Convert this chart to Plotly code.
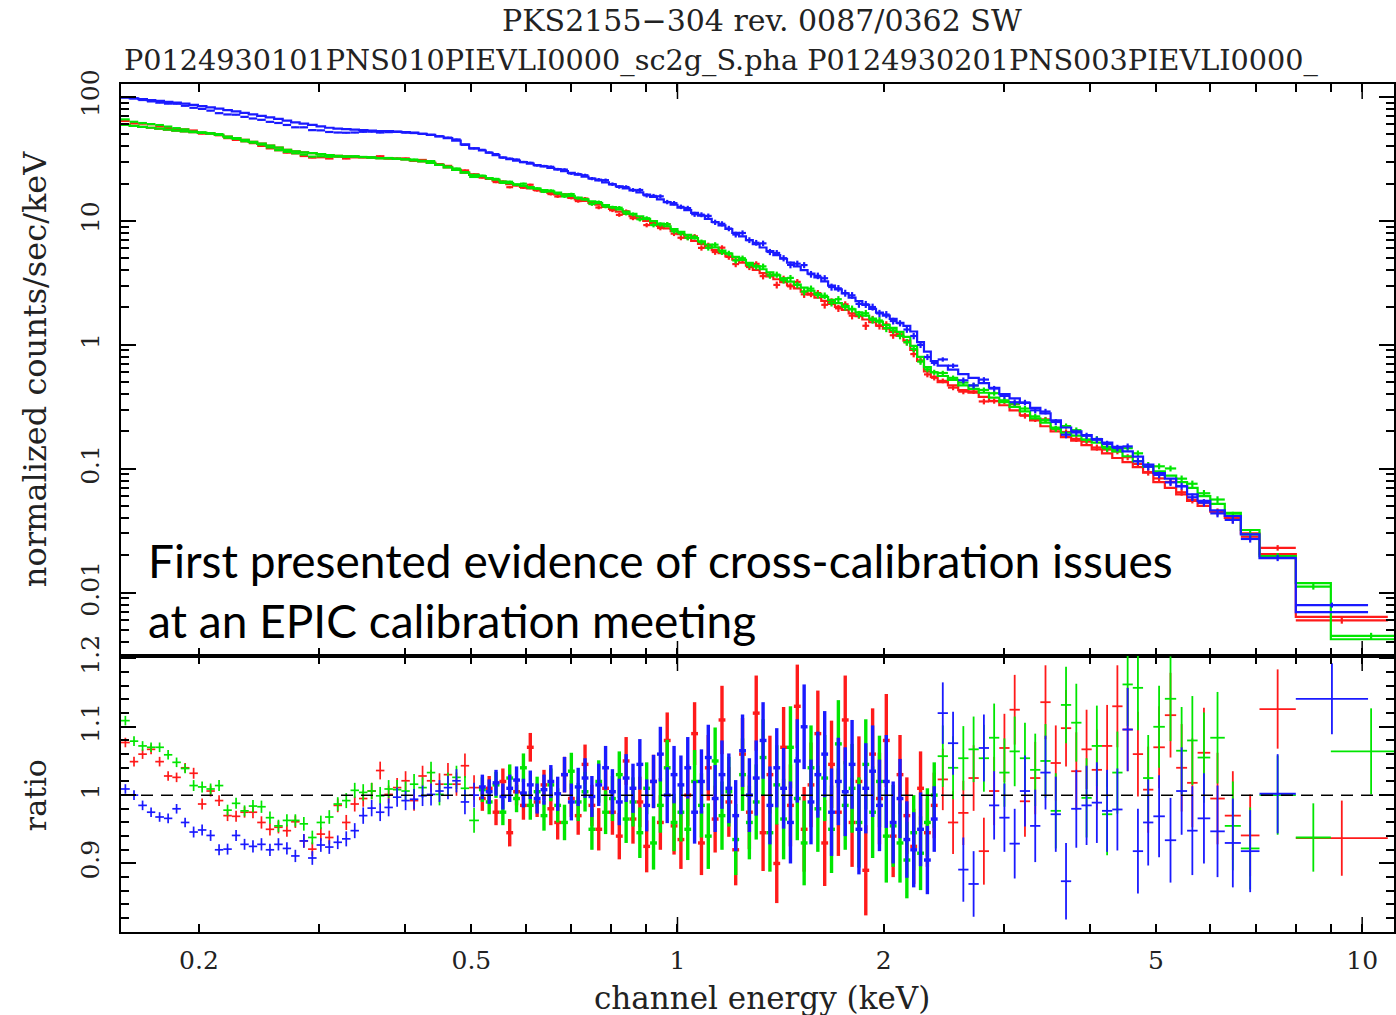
import math
import plotly.graph_objects as go

# ---------------- data ----------------
# common energy bin edges (keV)
edges_low = [0.1539, 0.1585, 0.1631, 0.1679, 0.1727, 0.1778, 0.1829, 0.1882, 0.1937, 0.1993,
             0.2051, 0.2110, 0.2171, 0.2234, 0.2299, 0.2365, 0.2433, 0.2504, 0.2576, 0.2651,
             0.2727, 0.2806, 0.2887, 0.2971, 0.3057, 0.3145, 0.3236, 0.3330, 0.3426, 0.3525,
             0.3627, 0.3732, 0.3840, 0.3951, 0.4065, 0.4183, 0.4304, 0.4428, 0.4556, 0.4688,
             0.4824, 0.4963]
edges_dense = [0.5129, 0.5248, 0.5370, 0.5495, 0.5623, 0.5754, 0.5888, 0.6026, 0.6166, 0.6310,
               0.6457, 0.6607, 0.6761, 0.6918, 0.7079, 0.7244, 0.7413, 0.7586, 0.7762, 0.7943,
               0.8128, 0.8318, 0.8511, 0.8710, 0.8913, 0.9120, 0.9333, 0.9550, 0.9772, 1.0000,
               1.0233, 1.0471, 1.0715, 1.0965, 1.1220, 1.1482, 1.1749, 1.2023, 1.2303, 1.2589,
               1.2882, 1.3183, 1.3490, 1.3804, 1.4125, 1.4454, 1.4791, 1.5136, 1.5488, 1.5849,
               1.6218, 1.6596, 1.6982, 1.7378, 1.7783, 1.8197, 1.8621, 1.9055, 1.9498, 1.9953,
               2.0417, 2.0893, 2.1380, 2.1878, 2.2387, 2.2909, 2.3442]
edges_mid = [2.3988, 2.4831, 2.5704, 2.6607, 2.7542, 2.8510, 2.9512, 3.0549, 3.1623, 3.2734,
             3.3884, 3.5075, 3.6308, 3.7584, 3.8905, 4.0272, 4.1687, 4.3152, 4.4668, 4.6238,
             4.7863]
edges_high = [4.9545, 5.15, 5.35, 5.55, 5.75, 6.0, 6.3, 6.65, 7.08, 8.0]

# last (wide) bins differ between the three data sets
tail_edges_red = [10.9]
tail_edges_green = [9.0, 11.8]
tail_edges_blue = [10.2]

# folded model, normalized counts/sec/keV
model_red = [59.5, 58.5, 57.5, 56.5, 55.5, 54.5, 53.5, 52.7, 52, 51.3,
             50.6, 49.5, 48, 46.5, 45, 43.5, 42, 40.5, 39, 37.5,
             36.5, 35.8, 35.2, 34.6, 34, 33.5, 33.2, 33, 32.7, 32.4,
             32.1, 31.9, 31.6, 31.3, 30.8, 30.2, 29.4, 28.3, 27, 25.8, 24.5, 23.5,
             22.5, 21.8, 21.1, 20.4, 19.8, 19.3, 18.8, 18.3, 17.8, 17.3,
             16.8, 16.4, 15.9, 15.4, 14.9, 14.5, 14.0, 13.5, 13.0, 12.5,
             11.9, 11.4, 10.9, 10.5, 10.0, 9.55, 9.12, 8.69, 8.26, 7.82,
             7.32, 6.89, 6.51, 6.13, 5.81, 5.48, 5.17, 4.87, 4.61, 4.35,
             4.02, 3.79, 3.57, 3.38, 3.20, 3.01, 2.85, 2.69, 2.54, 2.40,
             2.26, 2.14, 2.02, 1.91, 1.79, 1.70, 1.60, 1.52, 1.43, 1.35,
             1.27, 1.18, 1.08, 0.91, 0.74, 0.61, 0.55,
             0.50, 0.47, 0.43, 0.41, 0.38, 0.35, 0.325, 0.295, 0.27, 0.245,
             0.22, 0.20, 0.18, 0.168, 0.155, 0.143, 0.133, 0.122, 0.113, 0.103, 0.093,
             0.078, 0.070, 0.062, 0.055, 0.050, 0.045, 0.040, 0.030, 0.0204,
             0.00636]
model_green = [59.5, 58.5, 57.5, 56.5, 55.5, 54.5, 53.5, 52.7, 52, 51.3,
               50.6, 49.5, 48, 46.5, 45, 43.5, 42, 40.5, 39, 37.5,
               36.5, 35.8, 35.2, 34.6, 34, 33.5, 33.2, 33, 32.7, 32.4,
               32.1, 31.9, 31.6, 31.3, 30.8, 30.2, 29.4, 28.3, 27, 25.8, 24.5, 23.5,
               23.0, 22.2, 21.5, 20.8, 20.2, 19.7, 19.2, 18.7, 18.2, 17.7,
               17.3, 16.9, 16.4, 15.9, 15.4, 14.9, 14.4, 13.9, 13.4, 12.9,
               12.4, 11.9, 11.4, 10.9, 10.4, 9.95, 9.5, 9.05, 8.6, 8.15,
               7.70, 7.25, 6.85, 6.45, 6.12, 5.77, 5.44, 5.13, 4.85, 4.58,
               4.32, 4.07, 3.84, 3.63, 3.44, 3.24, 3.06, 2.89, 2.73, 2.58,
               2.43, 2.30, 2.17, 2.05, 1.93, 1.83, 1.72, 1.63, 1.54, 1.45,
               1.37, 1.27, 1.16, 0.98, 0.80, 0.66, 0.60,
               0.56, 0.52, 0.47, 0.44, 0.41, 0.375, 0.345, 0.315, 0.29, 0.255,
               0.235, 0.215, 0.195, 0.185, 0.172, 0.162, 0.150, 0.138, 0.126, 0.115, 0.104,
               0.095, 0.088, 0.078, 0.070, 0.060, 0.052, 0.044, 0.032, 0.0197,
               0.0119, 0.0042]
model_blue = [99, 97.5, 96, 94.5, 93, 91.5, 90, 88.5, 86.5, 84.5,
              82.5, 80.5, 78.5, 76.5, 74.5, 72.5, 70.5, 68.5, 66.5, 64.5,
              62.5, 61, 59.5, 58, 56.5, 55.5, 55, 54.5, 54, 53.5,
              53, 53, 52.5, 52, 51.5, 50.5, 49.5, 48, 46.5, 44.5, 41.5, 38.5,
              37, 35.5, 34, 32.5, 31.5, 30.6, 29.8, 29.0, 28.2, 27.5,
              26.8, 26.1, 25.2, 24.4, 23.6, 22.8, 22.0, 21.2, 20.5, 19.7,
              19.0, 18.3, 17.6, 17.0, 16.3, 15.6, 14.9, 14.2, 13.5, 12.8,
              12.2, 11.6, 11.0, 10.4, 9.8, 9.2, 8.6, 8.0, 7.5, 7.0,
              6.5, 6.1, 5.7, 5.3, 4.95, 4.6, 4.3, 4.0, 3.75, 3.5,
              3.25, 3.0, 2.8, 2.6, 2.4, 2.25, 2.1, 1.95, 1.82, 1.72,
              1.62, 1.5, 1.42, 1.28, 1.05, 0.88, 0.74,
              0.68, 0.63, 0.58, 0.54, 0.49, 0.45, 0.40, 0.37, 0.34, 0.31,
              0.28, 0.245, 0.215, 0.20, 0.187, 0.173, 0.162, 0.150, 0.138, 0.125, 0.108,
              0.092, 0.083, 0.072, 0.062, 0.055, 0.046, 0.0415, 0.0295, 0.019,
              0.00695]

# data / model ratio
ratio_red = [1.077, 1.049, 1.060, 1.067, 1.049, 1.028, 1.026, 1.040, 1.032, 0.987,
             1.006, 0.992, 0.970, 0.969, 0.975, 0.975, 0.960, 0.950, 0.953, 0.948,
             0.961, 0.933, 0.921, 0.943, 0.938, 0.985, 0.960, 0.987, 0.995, 1.006,
             1.036, 1.001, 1.011, 1.021, 0.992, 1.028, 1.021, 1.016, 1.030, 1.016, 1.043, 1.011,
             0.995, 1.010, 0.975, 1.020, 0.945, 1.005, 0.985, 1.070, 0.990, 1.015,
             0.980, 0.960, 1.030, 0.995, 0.970, 1.045, 0.985, 0.950, 1.010, 0.975,
             0.940, 1.050, 0.965, 0.990, 0.925, 1.020, 0.960, 1.080, 0.955, 0.935,
             1.000, 1.090, 0.930, 1.040, 0.965, 1.110, 0.990, 0.920, 1.060, 0.975,
             1.120, 0.945, 1.030, 0.900, 1.070, 0.985, 1.130, 0.950, 1.015, 1.090,
             0.930, 1.045, 0.975, 1.110, 0.960, 1.020, 0.890, 1.060, 0.995, 1.080,
             0.940, 1.030, 0.970, 0.925, 1.010, 0.945, 0.985,
             1.023, 0.960, 0.974, 1.025, 0.918, 1.006, 1.069, 1.125, 0.991, 1.025,
             1.136, 1.047, 1.098, 1.035, 1.067, 1.037, 1.072, 1.130, 1.096, 1.060, 1.008,
             1.070, 1.117, 1.040, 1.018, 1.062, 0.995, 0.970, 0.941, 1.126,
             0.937]
ratio_green = [1.109, 1.079, 1.072, 1.070, 1.070, 1.059, 1.048, 1.039, 1.014, 1.012,
               1.009, 1.014, 0.978, 0.988, 0.977, 0.984, 0.983, 0.967, 0.955, 0.963,
               0.963, 0.958, 0.938, 0.960, 0.968, 0.987, 0.992, 1.007, 1.004, 1.006,
               0.999, 1.009, 1.008, 1.006, 1.016, 1.011, 1.033, 1.001, 1.016, 1.026, 1.010, 0.963,
               1.008, 0.990, 1.015, 0.975, 1.025, 0.995, 1.040, 0.985, 1.005, 0.970,
               1.015, 0.985, 0.960, 1.035, 0.990, 1.005, 0.950, 1.020, 0.975, 0.995,
               1.030, 0.965, 0.990, 0.945, 1.010, 0.930, 0.985, 1.040, 0.960, 0.975,
               0.950, 1.020, 0.985, 0.940, 1.050, 0.970, 1.005, 0.935, 1.030, 0.960,
               0.990, 1.055, 0.945, 1.015, 0.965, 1.070, 0.995, 0.930, 1.040, 0.980,
               1.025, 0.950, 1.075, 0.985, 1.010, 0.960, 1.045, 0.975, 1.020, 0.940,
               0.955, 0.930, 0.905, 0.945, 0.915, 0.960, 1.000,
               1.057, 1.040, 1.054, 1.067, 1.054, 1.084, 1.033, 1.064, 1.054, 1.037,
               1.050, 0.977, 1.132, 1.106, 0.996, 1.072, 0.972, 1.033, 1.162, 1.157, 1.025,
               1.100, 1.141, 1.065, 1.080, 1.055, 1.084, 0.955, 0.922, 1.000,
               0.938, 1.064]
ratio_blue = [1.009, 1.000, 0.985, 0.975, 0.968, 0.966, 0.980, 0.960, 0.946, 0.949,
              0.941, 0.920, 0.921, 0.941, 0.928, 0.925, 0.928, 0.920, 0.928, 0.922,
              0.911, 0.933, 0.908, 0.927, 0.924, 0.931, 0.936, 0.948, 0.970, 0.981,
              0.975, 0.982, 0.997, 0.992, 0.994, 0.999, 1.001, 1.006, 1.011, 1.021, 0.990, 1.000,
              1.012, 1.005, 1.018, 0.998, 1.010, 1.022, 1.003, 1.015, 0.995, 1.008,
              1.020, 1.002, 1.030, 0.990, 1.012, 1.025, 0.998, 1.015, 1.040, 1.005,
              0.990, 1.025, 1.010, 1.045, 0.985, 1.020, 1.060, 1.000, 1.030, 1.015,
              1.040, 0.975, 1.020, 1.055, 0.995, 1.030, 1.010, 0.970, 1.065, 1.000,
              1.025, 1.080, 0.985, 1.040, 1.010, 0.960, 1.050, 1.100, 0.990, 1.030,
              1.060, 0.975, 1.020, 1.005, 1.045, 0.950, 1.010, 1.035, 0.985, 1.020,
              0.960, 0.995, 0.935, 0.920, 0.950, 0.905, 0.965,
              1.120, 1.076, 0.891, 0.870, 1.069, 0.985, 0.967, 0.929, 1.006, 0.955,
              1.033, 0.972, 0.874, 0.980, 0.985, 0.989, 0.977, 0.979, 1.096, 0.918, 0.960,
              0.969, 0.934, 1.006, 0.948, 0.966, 0.947, 0.930, 0.918, 1.002,
              1.141]

# 1-sigma ratio errors on the common bins, plus the tail bins per data set
ratio_err = [0.007, 0.007, 0.007, 0.007, 0.007, 0.007, 0.007, 0.007, 0.008, 0.008,
             0.008, 0.008, 0.008, 0.008, 0.008, 0.009, 0.009, 0.009, 0.009, 0.009,
             0.009, 0.010, 0.010, 0.010, 0.010, 0.010, 0.011, 0.011, 0.012, 0.012,
             0.013, 0.013, 0.014, 0.014, 0.015, 0.015, 0.016, 0.016, 0.017, 0.017, 0.018, 0.018,
             0.018, 0.018, 0.019, 0.019, 0.020, 0.020, 0.021, 0.021, 0.022, 0.022,
             0.024, 0.025, 0.026, 0.027, 0.028, 0.029, 0.030, 0.031, 0.032, 0.033,
             0.034, 0.035, 0.036, 0.037, 0.038, 0.039, 0.040, 0.041, 0.042, 0.043,
             0.045, 0.046, 0.047, 0.048, 0.049, 0.050, 0.051, 0.052, 0.053, 0.054,
             0.055, 0.056, 0.057, 0.058, 0.059, 0.060, 0.061, 0.062, 0.062, 0.063,
             0.063, 0.064, 0.064, 0.065, 0.065, 0.066, 0.066, 0.067, 0.067, 0.068,
             0.060, 0.058, 0.056, 0.055, 0.054, 0.050, 0.048,
             0.045, 0.046, 0.047, 0.048, 0.049, 0.050, 0.050, 0.051, 0.052, 0.053,
             0.054, 0.055, 0.056, 0.057, 0.058, 0.059, 0.060, 0.060, 0.061, 0.062, 0.063,
             0.060, 0.062, 0.064, 0.065, 0.066, 0.067, 0.065, 0.060, 0.058]
tail_err_red = [0.055]
tail_err_green = [0.050, 0.063]
tail_err_blue = [0.052]

x_tick_vals = [0.2, 0.5, 1, 2, 5, 10]
x_tick_text = ["0.2", "0.5", "1", "2", "5", "10"]
y_tick_vals = [0.01, 0.1, 1, 10, 100]
y_tick_text = ["0.01", "0.1", "1", "10", "100"]
r_tick_vals = [0.9, 1.0, 1.1, 1.2]
r_tick_text = ["0.9", "1", "1.1", "1.2"]

# ---------------- figure ----------------
W, H = 1396, 1015
L, R, T, B = 121, 1396, 84, 932
SPLIT = 656  # pixel row between the two panels


def px(xp):
    return (xp - L) / (R - L)


def py(yp):
    return (B - yp) / (B - T)


XR = [math.log10(0.1539), math.log10(11.13)]

edges_common = edges_low + edges_dense + edges_mid + edges_high
n_low = len(edges_low)
n_dense = len(edges_dense)
series = [
    ("#ff1a1a", edges_common + tail_edges_red, model_red, ratio_red, ratio_err + tail_err_red),
    ("#00e600", edges_common + tail_edges_green, model_green, ratio_green, ratio_err + tail_err_green),
    ("#1a1aff", edges_common + tail_edges_blue, model_blue, ratio_blue, ratio_err + tail_err_blue),
]


def crosses(xs, ys, xp, xm, ye, col, thick, xa, ya):
    return go.Scatter(x=xs, y=ys, mode="markers", marker=dict(size=1, color=col),
                      error_x=dict(type="data", symmetric=False, array=xp, arrayminus=xm,
                                   color=col, thickness=thick, width=0),
                      error_y=dict(type="data", array=ye, color=col, thickness=thick, width=0),
                      xaxis=xa, yaxis=ya, showlegend=False)


fig = go.Figure()
for col, edges, model, ratio, err in series:
    lo = edges[:-1]
    hi = edges[1:]
    assert len(lo) == len(model) == len(ratio) == len(err), (len(lo), len(model), len(ratio), len(err))
    ctr = [math.sqrt(a * b) for a, b in zip(lo, hi)]
    ex_p = [h - c for h, c in zip(hi, ctr)]
    ex_m = [c - l for c, l in zip(ctr, lo)]
    data = [m * r for m, r in zip(model, ratio)]
    data_err = [m * e for m, e in zip(model, err)]
    # model histogram (top)
    fig.add_trace(go.Scatter(x=lo + [hi[-1]], y=model + [model[-1]], mode="lines",
                             line=dict(color=col, width=2.2, shape="hv"),
                             xaxis="x", yaxis="y", showlegend=False, hoverinfo="skip"))
    # data crosses (top)
    fig.add_trace(crosses(ctr, data, ex_p, ex_m, data_err, col, 2.2, "x", "y"))
    # ratio crosses (bottom): the crowded 0.5-2.4 keV part drawn with heavier strokes
    a, b = n_low, n_low + n_dense
    for sl, th in [(slice(0, a), 1.7), (slice(a, b), 3.4), (slice(b, None), 1.8)]:
        fig.add_trace(crosses(ctr[sl], ratio[sl], ex_p[sl], ex_m[sl], err[sl], col, th, "x2", "y2"))

serif = "DejaVu Serif"
tickfont = dict(family=serif, size=25, color="#222")
split_frac = (B - SPLIT) / (B - T)

x_minor = [0.3, 0.4, 0.6, 0.7, 0.8, 0.9, 3, 4, 6, 7, 8, 9]
y_minor = [m * 10 ** p for p in range(-3, 3) for m in range(2, 10)]

common_x = dict(type="log", range=XR, showline=True, linecolor="black", linewidth=2,
                mirror="allticks", ticks="inside", ticklen=8, tickwidth=1.5, tickcolor="black",
                tickmode="array", tickvals=x_tick_vals, ticktext=x_tick_text,
                showgrid=False, zeroline=False,
                minor=dict(ticks="inside", ticklen=8, tickwidth=1.5, tickcolor="black",
                           tickmode="array", tickvals=x_minor, showgrid=False))

fig.update_layout(
    width=W, height=H,
    margin=dict(l=L, r=W - R, t=T, b=H - B),
    paper_bgcolor="white", plot_bgcolor="white",
    xaxis=dict(common_x, domain=[0, 1], anchor="y", showticklabels=False, matches="x2"),
    xaxis2=dict(common_x, domain=[0, 1], anchor="y2", tickfont=tickfont, ticklabelstandoff=5),
    yaxis=dict(type="log", domain=[split_frac, 1], anchor="x",
               range=[-2.512, 2.105], showline=True, linecolor="black", linewidth=2,
               mirror="allticks", ticks="inside", ticklen=15, tickwidth=1.5, tickcolor="black",
               tickmode="array", tickvals=y_tick_vals, ticktext=y_tick_text,
               tickangle=-90, tickfont=tickfont, ticklabelstandoff=10,
               showgrid=False, zeroline=False,
               minor=dict(ticks="inside", ticklen=8, tickwidth=1.5, tickcolor="black",
                          tickmode="array", tickvals=y_minor, showgrid=False)),
    yaxis2=dict(domain=[0, split_frac], anchor="x2", range=[0.7997, 1.2036],
                showline=True, linecolor="black", linewidth=2,
                mirror="allticks", ticks="inside", ticklen=15, tickwidth=1.5, tickcolor="black",
                tickmode="array", tickvals=r_tick_vals, ticktext=r_tick_text,
                tickangle=-90, tickfont=tickfont, ticklabelstandoff=10,
                showgrid=False, zeroline=False,
                minor=dict(ticks="inside", ticklen=8, tickwidth=1.5, tickcolor="black",
                           dtick=0.02, showgrid=False)),
)

# dashed unity line in the ratio panel
fig.add_shape(type="line", xref="x2 domain", yref="y2", x0=0, x1=1, y0=1, y1=1,
              line=dict(color="black", width=1.5, dash="12px,8px"), layer="above")

# longer ticks at the decades on every horizontal frame edge
for xv in [1, 10]:
    xf = (math.log10(xv) - XR[0]) / (XR[1] - XR[0])
    for yref, anchor, sign in [("y domain", 0, 1), ("y domain", 1, -1),
                               ("y2 domain", 0, 1), ("y2 domain", 1, -1)]:
        fig.add_shape(type="line", xref="x domain" if yref == "y domain" else "x2 domain",
                      yref=yref, ysizemode="pixel", yanchor=anchor,
                      x0=xf, x1=xf, y0=0, y1=sign * 15,
                      line=dict(color="black", width=1.5))

txt = dict(family=serif, color="#222")
annots = [
    dict(text="PKS2155\u2212304 rev. 0087/0362 SW", x=px(763), y=py(20),
         xanchor="center", yanchor="middle", font=dict(txt, size=30)),
    dict(text="P0124930101PNS010PIEVLI0000_sc2g_S.pha P0124930201PNS003PIEVLI0000_",
         x=px(122), y=py(60), xanchor="left", yanchor="middle", font=dict(txt, size=28.7)),
    dict(text="normalized counts/sec/keV", x=px(35), y=py(369), textangle=-90,
         xanchor="center", yanchor="middle", font=dict(txt, size=32)),
    dict(text="ratio", x=px(35), y=py(795), textangle=-90,
         xanchor="center", yanchor="middle", font=dict(txt, size=30)),
    dict(text="channel energy (keV)", x=px(763), y=py(998),
         xanchor="center", yanchor="middle", font=dict(txt, size=31)),
    dict(text="First presented evidence of cross-calibration issues", x=px(146), y=py(560),
         xanchor="left", yanchor="middle", font=dict(family="Lato", size=46, color="black")),
    dict(text="at an EPIC calibration meeting", x=px(146), y=py(620),
         xanchor="left", yanchor="middle", font=dict(family="Lato", size=46, color="black")),
]
for a in annots:
    fig.add_annotation(xref="paper", yref="paper", showarrow=False, **a)

fig.write_html("out.html")
